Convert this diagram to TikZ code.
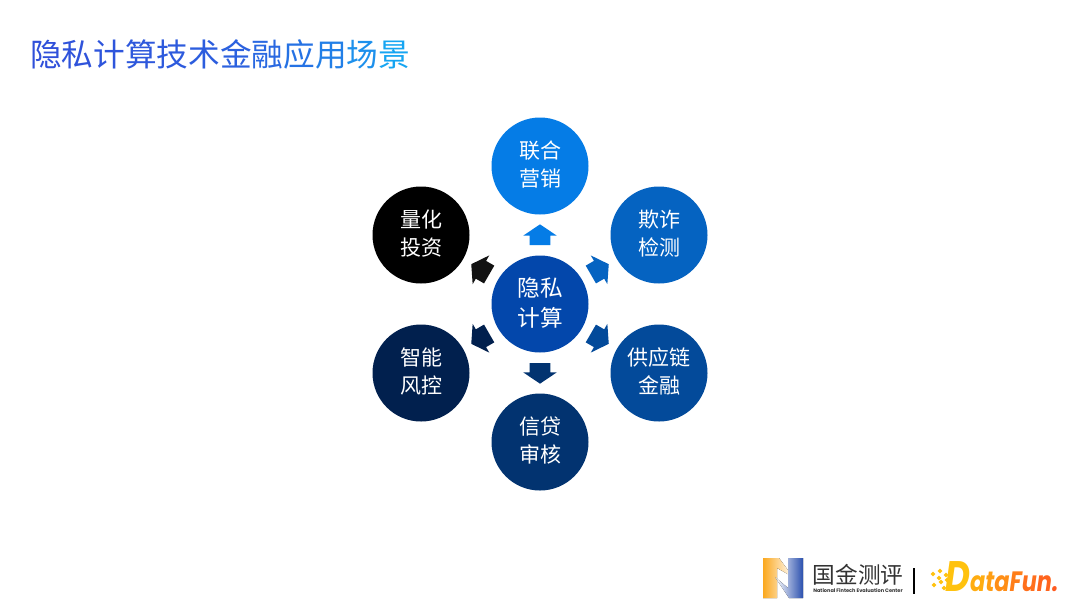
\documentclass[tikz,border=0pt]{standalone}
\usepackage{fontspec}
\setmainfont{Noto Sans CJK SC}
\newfontfamily\logofont{Poppins}
\usepackage{xcolor}
\usepackage{graphicx}
\usetikzlibrary{shapes.arrows,calc}
\definecolor{cMarket}{HTML}{057CE6}
\definecolor{cFraud}{HTML}{0563C1}
\definecolor{cSupply}{HTML}{034A9A}
\definecolor{cCredit}{HTML}{023370}
\definecolor{cRisk}{HTML}{01204E}
\definecolor{cQuant}{HTML}{000000}
\definecolor{cHub}{HTML}{0347AB}
\definecolor{cTitleA}{HTML}{3050DA}
\definecolor{cTitleB}{HTML}{16A5F2}
\definecolor{cOrangeA}{HTML}{FFC20E}
\definecolor{cOrangeB}{HTML}{FF5A1F}
\definecolor{cLogoO}{HTML}{FBA81E}
\definecolor{cLogoB}{HTML}{2B50AE}
\newcommand{\tch}[2]{\textcolor{cTitleB!#1!cTitleA}{#2}}
\newcommand{\och}[2]{\textcolor{cOrangeB!#1!cOrangeA}{#2}}
\tikzset{
  x=0.75pt, y=-0.75pt,
  ball/.style   = {circle, fill=#1, minimum size=72.75pt, inner sep=0pt, align=center,
                   text=white, text depth=3pt, font=\fontsize{15.75}{21}\selectfont},
  hub/.style    = {circle, fill=cHub, minimum size=72.75pt, inner sep=0pt, align=center,
                   text=white, text depth=3pt, font=\fontsize{17}{23}\selectfont},
  blockarr/.style = {single arrow, fill=#1, draw=none, inner sep=0pt, minimum height=15.5pt,
                   text height=15pt, text depth=0pt, text width=0pt,
                   single arrow head extend=4.75pt,
                   single arrow tip angle=112, single arrow head indent=0pt, anchor=tail},
  ttl/.style    = {font=\fontsize{23.75}{28}\selectfont, inner sep=0pt, anchor=west},
  sq/.style     = {fill=cOrangeA, minimum size=2.6pt, inner sep=0pt, rotate=45},
}
\begin{document}
\begin{tikzpicture}
  \useasboundingbox (0,0) rectangle (1080,608);
  \fill[white] (0,0) rectangle (1080,608);

  \node[ttl] (title) at (30,54) {\tch{0}{隐}\tch{3}{私}\tch{6}{计}\tch{9}{算}\tch{12}{技}\tch{15}{术}\tch{20}{金}\tch{28}{融}\tch{40}{应}\tch{55}{用}\tch{75}{场}\tch{100}{景}};

  \node[hub] (core) at (540,304) {隐私\\计算};
  \node[ball=cMarket] (market) at (540,166) {联合\\营销};
  \node[ball=cFraud] (fraud) at (659,235) {欺诈\\检测};
  \node[ball=cSupply] (supply) at (659,373) {供应链\\金融};
  \node[ball=cCredit] (credit) at (540,442) {信贷\\审核};
  \node[ball=cRisk] (risk) at (421,373) {智能\\风控};
  \node[ball=cQuant] (quant) at (421,235) {量化\\投资};

  \node[blockarr=cMarket, rotate=90] (toMarket) at ($(core)!0.5!(market)!7.7pt!(core)$) {};
  \node[blockarr=cFraud, rotate=30] (toFraud) at ($(core)!0.5!(fraud)!7.7pt!(core)$) {};
  \node[blockarr=cSupply, rotate=-30] (toSupply) at ($(core)!0.5!(supply)!7.7pt!(core)$) {};
  \node[blockarr=cCredit, rotate=-90] (toCredit) at ($(core)!0.5!(credit)!7.7pt!(core)$) {};
  \node[blockarr=cRisk, rotate=-150] (toRisk) at ($(core)!0.5!(risk)!7.7pt!(core)$) {};
  \node[blockarr=black!93, rotate=150] (toQuant) at ($(core)!0.5!(quant)!7.7pt!(core)$) {};

  % logo N
  \fill[left color=cLogoO, right color=white] (763,558) -- (779,558) -- (793,577) -- (777,568) -- (777,598) -- (763,598) -- cycle;
  \fill[left color=white, right color=cLogoB] (803,558) -- (788,558) -- (788,588) -- (775,577) -- (789,598) -- (803,598) -- cycle;

  \node[inner sep=0pt, font=\fontsize{17}{20}\selectfont, text=black!80] (logoName) at (858,575) {国金测评};
  \node[inner sep=0pt, font=\logofont\bfseries\fontsize{3.75}{5}\selectfont, text=black!80] (logoSub) at (858,590.5) {National Fintech Evaluation Center};
  \draw[black, line width=1pt] (914,568) -- (914,594);

  \node[inner sep=0pt, anchor=west, font=\logofont\bfseries\itshape] (logoFun) at (945,577) {\scalebox{0.8}[1]{\fontsize{32}{32}\selectfont\och{0}{D}\fontsize{21}{21}\selectfont\och{20}{a}\och{35}{t}\och{50}{a}\och{65}{F}\och{80}{u}\och{90}{n}\och{100}{.}}};
  \foreach \i/\px/\py in {a/933/574,b/940/571,c/939/578,d/946/575,e/934/585,f/941/582,g/947/580,h/944/588}{
    \node[sq] (sq\i) at (\px,\py) {};
  }
\end{tikzpicture}
\end{document}
